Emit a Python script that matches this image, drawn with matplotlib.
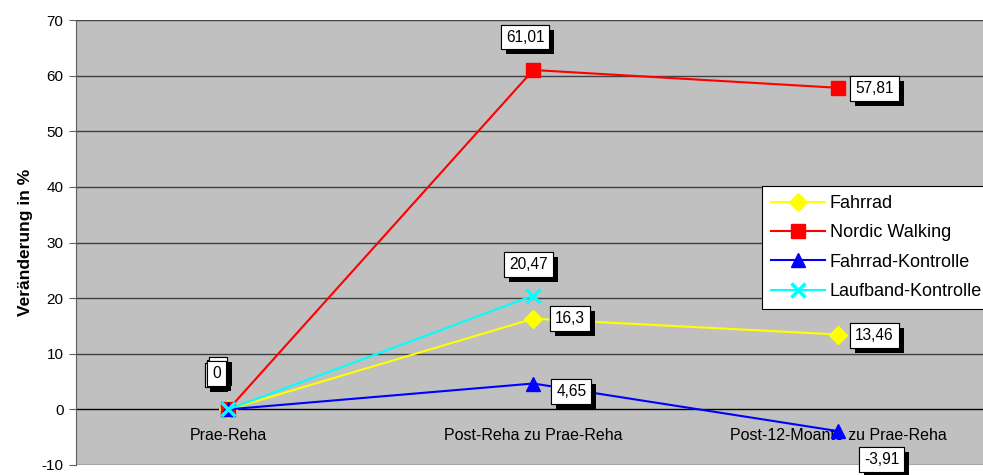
import matplotlib
matplotlib.use("Agg")
import matplotlib.pyplot as plt
import matplotlib.patheffects as pe
from matplotlib.patches import Rectangle
from matplotlib.transforms import ScaledTranslation, Affine2D

plt.rcParams['font.family'] = ['Liberation Sans', 'DejaVu Sans']

categories = ["Prae-Reha", "Post-Reha zu Prae-Reha", "Post-12-Moante zu Prae-Reha"]
fahrrad = [0, 16.3, 13.46]
nordic = [0, 61.01, 57.81]
fahrrad_k = [0, 4.65, -3.91]
laufband_k = [0, 20.47]
yticks = list(range(-10, 71, 10))

fig = plt.figure(figsize=(9.83, 4.75), dpi=100)
W, H = 983, 475
ax = fig.add_axes([76 / W, 1 - 465 / H, (990.5 - 76) / W, (465 - 20) / H])
ax.set_facecolor('#C0C0C0')
ax.set_xlim(-0.5, 2.5)
ax.set_ylim(-10, 70)
ax.set_yticks(yticks)
ax.set_yticklabels([str(v) for v in yticks], fontsize=11)
ax.tick_params(axis='y', direction='out', length=5, color='#606060', pad=4)
ax.set_xticks([])
for y in yticks:
    ax.axhline(y, color='#404040' if y != 0 else 'black', lw=1, zorder=1)
for s in ['top', 'right', 'bottom']:
    ax.spines[s].set_visible(False)
ax.spines['left'].set_color('#606060')
ax.set_ylabel('Veränderung in %', fontsize=12.5, fontweight='bold', labelpad=6)

for i, c in enumerate(categories):
    ax.annotate(c, xy=(i, 0), xytext=(0, -26), textcoords='offset pixels',
                ha='center', va='center', fontsize=11.5, zorder=2)

x3 = list(range(3))
ax.plot(x3, fahrrad, color='#FFFF00', lw=1.5, marker='D', ms=9, mfc='#FFFF00', mec='#FFFF00', label='Fahrrad', zorder=3)
ax.plot(x3, nordic, color='#FF0000', lw=1.5, marker='s', ms=10.5, mfc='#FF0000', mec='#FF0000', label='Nordic Walking', zorder=3)
ax.plot(x3, fahrrad_k, color='#0000FF', lw=1.5, marker='^', ms=10.5, mfc='#0000FF', mec='#0000FF', label='Fahrrad-Kontrolle', zorder=3)
ax.plot(x3[:2], laufband_k, color='#00FFFF', lw=1.5, marker='x', ms=10, mew=2.5, mfc='#00FFFF', mec='#00FFFF', label='Laufband-Kontrolle', zorder=4)

def fmt(v):
    return ('%g' % v).replace('.', ',')

shadow = [pe.withSimplePatchShadow(offset=(3.6, -3.6), shadow_rgbFace='black', alpha=1.0), pe.Normal()]

def label(x, y, text, dx, dy, ha='center', va='center'):
    t = ax.annotate(text, xy=(x, y), xytext=(dx, dy), textcoords='offset pixels',
                    ha=ha, va=va, fontsize=11.2, zorder=6, annotation_clip=False,
                    bbox=dict(boxstyle='square,pad=0.32', fc='white', ec='black', lw=0.8))
    t.get_bbox_patch().set_path_effects(shadow)
    return t

label(1, nordic[1], fmt(nordic[1]), -8, 33)
label(2, nordic[2], fmt(nordic[2]), 17, -1, ha='left')
label(1, laufband_k[1], fmt(laufband_k[1]), -5, 31)
label(1, fahrrad[1], fmt(fahrrad[1]), 22, 0, ha='left')
label(2, fahrrad[2], fmt(fahrrad[2]), 17, -1, ha='left')
label(1, fahrrad_k[1], fmt(fahrrad_k[1]), 23, -8, ha='left')
label(2, fahrrad_k[2], fmt(fahrrad_k[2]), 26, -28, ha='left')

# stacked zero labels (all four series start at 0): back boxes drawn as patches
for k in range(3):
    rect = Rectangle((0, 0), 18, 24, fc='white', ec='black', lw=0.8, zorder=5)
    rect.set_transform(Affine2D().translate(-23 + 2 * k, 22 + 3 * k) +
                       ScaledTranslation(0, 0, ax.transData))
    rect.set_path_effects(shadow)
    ax.add_patch(rect)
label(0, 0, '0', -16, 36, ha='left')

leg = fig.legend(loc='upper left', bbox_to_anchor=(762 / W, 1 - 186 / H),
                 fontsize=13, frameon=True, fancybox=False, framealpha=1,
                 edgecolor='black', handlelength=3.0, borderpad=0.5,
                 labelspacing=0.68, handletextpad=0.25, borderaxespad=0)
leg.get_frame().set_linewidth(0.8)

fig.savefig('out.png', dpi=100, facecolor='white')
